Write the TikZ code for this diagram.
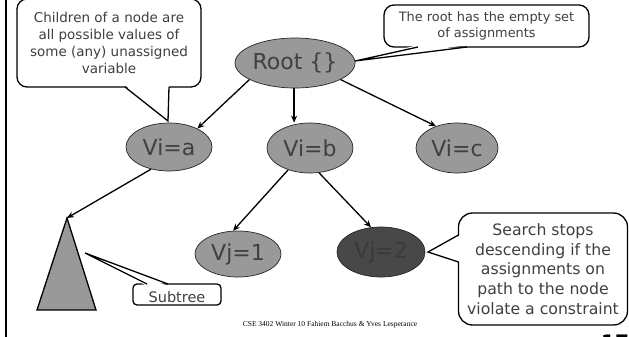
\documentclass[tikz,border=0pt]{standalone}
\usepackage{fontspec}
\setmainfont{DejaVu Sans}
\newfontfamily\footfont{Liberation Serif}
\usetikzlibrary{shapes.geometric,arrows.meta,calc}
\definecolor{vgray}{RGB}{153,153,153}
\definecolor{vtext}{RGB}{64,64,64}
\definecolor{dgray}{RGB}{72,72,72}
\definecolor{dtext}{RGB}{58,58,58}
\begin{document}
\begin{tikzpicture}[x=1pt,y=-1pt,
  vnode/.style={ellipse,draw=black!85,line width=0.7pt,fill=vgray,inner sep=0pt,
    text=vtext,font=\fontsize{22}{24}\selectfont},
  arr/.style={line width=1.3pt,-{Stealth[length=7pt,width=6pt]}},
  callbox/.style={draw,line width=1.3pt,rounded corners=10pt,fill=white,align=center,inner sep=0pt},
  tail/.style={line width=1.3pt,line join=miter},
  tailfill/.style={fill=white},
]
\useasboundingbox (0,0) rectangle (629,337);
\fill[white] (0,0) rectangle (629,337);
\draw[line width=2pt] (6,0) coordinate (lt) -- (6,337) coordinate (lb);

% tree nodes
\node[vnode,minimum width=120pt,minimum height=50pt] (root) at (295,63) {Root \{\}};
\node[vnode,minimum width=86pt,minimum height=48pt] (via) at (169,147) {Vi=a};
\node[vnode,minimum width=86pt,minimum height=50pt] (vib) at (310,148) {Vi=b};
\node[vnode,minimum width=82pt,minimum height=50pt] (vic) at (457,148) {Vi=c};
\node[vnode,minimum width=86pt,minimum height=46pt] (vj1) at (238,254) {Vj=1};
\node[vnode,minimum width=88pt,minimum height=50pt,fill=dgray,text=dtext] (vj2) at (381,252) {Vj=2};

% subtree triangle
\coordinate (tapex) at (67,218);
\coordinate (tbl) at (37,310);
\coordinate (tbr) at (96,310);
\draw[fill=vgray,line width=1.3pt,line join=miter] (tapex) -- (tbl) -- (tbr) -- cycle;

% arrows
\draw[arr] (root.200) -- (via.33);
\draw[arr] (root.268) -- (root.268 |- vib.north);
\draw[arr] (root.340) -- (vic.134);
\draw[arr] (via.231) -- (tapex);
\draw[arr] (vib.225) -- (vj1.102);
\draw[arr] (vib.290) -- (vj2.112);

% callout: children
\node[callbox,minimum width=184pt,minimum height=88pt,font=\fontsize{13.5}{16.7}\selectfont,text=black!75] (c1) at (109,43)
  {Children of a node are\\all possible values of\\some (any) unassigned\\variable};
\coordinate (c1tip) at (168,121);
\coordinate (c1a) at (125,87);
\coordinate (c1b) at (169,87);
\fill[tailfill] ($(c1a)+(0,-2)$) -- (c1tip) -- ($(c1b)+(0,-2)$) -- cycle;
\draw[tail] (c1a) -- (c1tip) -- (c1b);

% callout: root
\node[callbox,minimum width=205pt,minimum height=42pt,font=\fontsize{12.9}{16.7}\selectfont,text=black!75] (c2) at (486.5,26)
  {The root has the empty set\\of assignments};
\coordinate (c2tip) at (355,61);
\coordinate (c2a) at (418,47);
\coordinate (c2b) at (467,47);
\fill[tailfill] ($(c2a)+(0,-2)$) -- (c2tip) -- ($(c2b)+(0,-2)$) -- cycle;
\draw[tail] (c2a) -- (c2tip) -- (c2b);

% callout: subtree
\node[callbox,rounded corners=4pt,minimum width=88pt,minimum height=21pt,font=\fontsize{14.5}{16}\selectfont,text=black!75,text depth=0pt] (c3) at (177,294.5)
  {\raisebox{-4pt}{Subtree}};
\coordinate (c3tip) at (85,253);
\coordinate (c3a) at (147,284);
\coordinate (c3b) at (168,284);
\fill[tailfill] ($(c3a)+(0,2)$) -- (c3tip) -- ($(c3b)+(0,2)$) -- cycle;
\draw[tail] (c3a) -- (c3tip) -- (c3b);

% callout: search stops
\node[callbox,rounded corners=14pt,minimum width=169pt,minimum height=112pt,font=\fontsize{15.7}{19.6}\selectfont,text=black!75] (c4) at (543,269)
  {Search stops\\descending if the\\assignments on\\path to the node\\violate a constraint};
\coordinate (c4tip) at (428,252);
\coordinate (c4a) at (458.5,235);
\coordinate (c4b) at (458.5,262);
\fill[tailfill] ($(c4a)+(2,0)$) -- (c4tip) -- ($(c4b)+(2,0)$) -- cycle;
\draw[tail] (c4a) -- (c4tip) -- (c4b);

% footer
\node[font=\footfont\fontsize{7.5}{8}\selectfont] (foot) at (330,325) {CSE 3402 Winter 10 Fahiem Bacchus \& Yves Lesperance};
\node[font=\bfseries\fontsize{20}{22}\selectfont,anchor=base] (pg) at (615,349) {17};
\end{tikzpicture}
\end{document}
